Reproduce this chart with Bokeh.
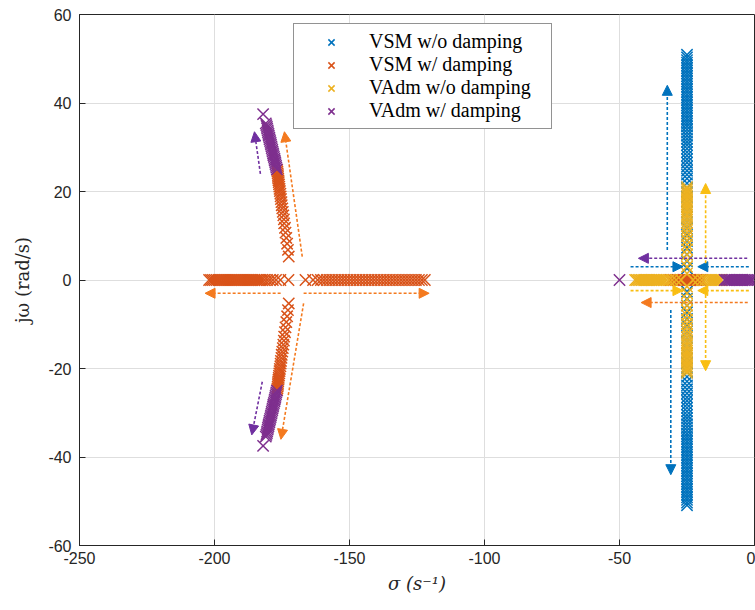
from bokeh.plotting import figure
from bokeh.models import (ColumnDataSource, Arrow, NormalHead, Range1d, Legend,
                          LegendItem, FixedTicker)
from bokeh.embed import file_html
from bokeh.resources import INLINE

# ---------------- data ----------------
series_names = ["VSM w/o damping", "VSM w/ damping", "VAdm w/o damping", "VAdm w/ damping"]
series_colors = ["#0072BD", "#D95319", "#EDB120", "#7E2F8E"]

# VSM w/o damping: vertical branch at sigma = -25
vsm_wo_up_im = [2.6, 4.2, 5.8, 7.3, 8.8, 10.2, 11.6, 12.9, 14.2, 15.4, 16.6, 17.7, 18.8,
                19.9, 20.9, 21.9, 22.9, 23.8, 24.7, 25.6, 26.5, 27.3, 28.1, 28.9, 29.7,
                30.5, 31.2, 31.9, 32.6, 33.3, 34.0, 34.7, 35.3, 35.9, 36.5, 37.1, 37.7,
                38.3, 38.9, 39.5, 40.1, 40.7, 41.3, 41.9, 42.5, 43.1, 43.7, 44.3, 44.9,
                45.5, 46.1, 46.7, 47.3, 47.9, 48.5, 49.1, 49.7, 50.3, 50.9]
vsm_wo_dn_im = [-2.6, -4.2, -5.8, -7.3, -8.8, -10.2, -11.6, -12.9, -14.2, -15.4, -16.6, -17.7, -18.8,
                -19.9, -20.9, -21.9, -22.9, -23.8, -24.7, -25.6, -26.5, -27.3, -28.1, -28.9, -29.7,
                -30.5, -31.2, -31.9, -32.6, -33.3, -34.0, -34.7, -35.3, -35.9, -36.5, -37.1, -37.7,
                -38.3, -38.9, -39.5, -40.1, -40.7, -41.3, -41.9, -42.5, -43.1, -43.7, -44.3, -44.9,
                -45.5, -46.1, -46.7, -47.3, -47.9, -48.5, -49.1, -49.7, -50.3, -50.9]
vsm_wo_sigma = -25.0

# VSM w/ damping
vsm_w_real_re = [-202.0, -201.3, -200.6, -199.9, -199.2, -198.5, -197.8, -197.1, -196.4, -195.7,
                 -195.0, -194.3, -193.6, -192.9, -192.2, -191.5, -190.8, -190.1, -189.4, -188.7,
                 -188.0, -187.3, -186.6, -185.9, -185.2, -184.5, -183.8, -183.1, -182.4,
                 -181.5, -180.5, -179.5, -178.4, -177.2, -175.6, -172.6, -166.3, -163.5, -161.8,
                 -160.6, -159.5, -158.4, -157.3, -156.2, -155.1, -154.0, -152.9, -151.8, -150.7,
                 -149.6, -148.5, -147.4, -146.3, -145.2, -144.1, -143.0, -141.9, -140.8, -139.7,
                 -138.6, -137.5, -136.4, -135.3, -134.2, -133.1, -132.0, -130.9, -129.8, -128.7,
                 -127.6, -126.5, -125.4, -124.3, -123.2, -122.1,
                 -31.0, -30.0, -29.2, -28.5, -27.9, -27.3, -26.8, -26.3, -25.8, -25.3, -25.0,
                 -24.7, -24.2, -23.7, -23.2, -22.7, -22.1, -21.5, -20.8, -20.0, -19.3]
vsm_w_br_re = [-172.5, -172.8, -173.1, -173.4, -173.7, -173.9, -174.2, -174.3, -174.5, -174.7,
               -174.9, -175.1, -175.2, -175.4, -175.5, -175.6, -175.8, -175.9, -176.0, -176.1,
               -176.2, -176.3, -176.4, -176.5, -176.5, -176.6, -176.7, -176.8]
vsm_w_up_im = [5.3, 6.8, 8.2, 9.5, 10.7, 11.8, 12.8, 13.7, 14.6, 15.4, 16.2, 16.9, 17.6, 18.3,
               18.9, 19.5, 20.1, 20.6, 21.1, 21.6, 22.1, 22.5, 22.9, 23.3, 23.7, 24.1, 24.5, 24.9]
vsm_w_dn_im = [-5.3, -6.8, -8.2, -9.5, -10.7, -11.8, -12.8, -13.7, -14.6, -15.4, -16.2, -16.9, -17.6, -18.3,
               -18.9, -19.5, -20.1, -20.6, -21.1, -21.6, -22.1, -22.5, -22.9, -23.3, -23.7, -24.1, -24.5, -24.9]

# VAdm w/o damping
vadm_wo_up_im = [1.5, 3.0, 4.4, 5.7, 6.9, 8.0, 9.0, 9.9, 10.7, 11.5, 12.2, 12.9, 13.6, 14.2,
                 14.8, 15.4, 16.0, 16.5, 17.0, 17.5, 18.0, 18.5, 19.0, 19.5, 20.0, 20.5, 21.0]
vadm_wo_dn_im = [-1.5, -3.0, -4.4, -5.7, -6.9, -8.0, -9.0, -9.9, -10.7, -11.5, -12.2, -12.9, -13.6, -14.2,
                 -14.8, -15.4, -16.0, -16.5, -17.0, -17.5, -18.0, -18.5, -19.0, -19.5, -20.0, -20.5, -21.0]
vadm_wo_sigma = -25.0
vadm_wo_real_re = [-44.2, -43.6, -43.0, -42.4, -41.8, -41.2, -40.6, -40.0, -39.4, -38.8, -38.2,
                   -37.6, -37.0, -36.4, -35.8, -35.1, -34.4, -33.6, -32.7, -31.7, -30.5, -29.0,
                   -27.2, -22.8, -21.0, -19.5, -18.3, -17.3, -16.5, -15.8, -15.2, -14.6, -14.0,
                   -13.4, -12.8, -12.3]

# VAdm w/ damping
vadm_w_real_re = [-50.0, -11.0, -10.4, -9.8, -9.2, -8.6, -8.0, -7.4, -6.8, -6.2, -5.6, -5.0, -4.4,
                  -3.8, -3.2, -2.6, -2.0, -1.4, -0.8]
vadm_w_br_re = [-176.9, -177.1, -177.2, -177.4, -177.5, -177.7, -177.8, -178.0, -178.2, -178.3,
                -178.5, -178.6, -178.8, -178.9, -179.1, -179.2, -179.4, -179.6, -179.7, -179.9,
                -180.0, -180.2, -180.3, -180.5, -180.6, -180.8, -181.0, -182.0]
vadm_w_up_im = [25.0, 25.4, 25.8, 26.2, 26.6, 27.0, 27.4, 27.8, 28.2, 28.6, 29.0, 29.4, 29.8, 30.2,
                30.6, 31.0, 31.4, 31.8, 32.2, 32.6, 33.0, 33.4, 33.8, 34.2, 34.6, 35.0, 35.4, 37.5]
vadm_w_dn_im = [-25.0, -25.4, -25.8, -26.2, -26.6, -27.0, -27.4, -27.8, -28.2, -28.6, -29.0, -29.4, -29.8, -30.2,
                -30.6, -31.0, -31.4, -31.8, -32.2, -32.6, -33.0, -33.4, -33.8, -34.2, -34.6, -35.0, -35.4, -37.5]

# direction arrows (start -> end), one group per colour
arrow_colors = ["#0072BD", "#F47A1F", "#F9BE12", "#7030A0"]
arrow_x0 = [[-32.3, -31.0, -45.9, -2.1],
            [-167.5, -167.0, -175.5, -167.0, -2.5],
            [-18.1, -18.1, -45.9, -2.1],
            [-183.0, -182.3, -2.7]]
arrow_y0 = [[6.8, -6.8, 3.0, 3.0],
            [5.3, -5.3, -3.0, -3.0, -5.1],
            [3.8, -3.4, -2.4, -2.4],
            [24.0, -23.0, 4.9]]
arrow_x1 = [[-32.3, -31.0, -26.5, -21.0],
            [-174.1, -175.4, -203.5, -120.5, -42.0],
            [-18.1, -18.1, -26.5, -21.0],
            [-185.2, -186.2, -43.0]]
arrow_y1 = [[44.0, -44.0, 3.0, 3.0],
            [33.5, -36.0, -3.0, -3.0, -5.1],
            [21.8, -20.5, -2.4, -2.4],
            [33.5, -35.0, 4.9]]

x_ticks = [-250, -200, -150, -100, -50, 0]
y_ticks = [-60, -40, -20, 0, 20, 40, 60]
x_tick_labels = ["-250", "-200", "-150", "-100", "-50", "0"]
y_tick_labels = ["-60", "-40", "-20", "0", "20", "40", "60"]

# ---------------- assemble series ----------------
s_re = [
    [vsm_wo_sigma] * (len(vsm_wo_up_im) + len(vsm_wo_dn_im)),
    vsm_w_real_re + vsm_w_br_re + vsm_w_br_re,
    [vadm_wo_sigma] * (len(vadm_wo_up_im) + len(vadm_wo_dn_im)) + vadm_wo_real_re,
    vadm_w_real_re + vadm_w_br_re + vadm_w_br_re,
]
s_im = [
    vsm_wo_up_im + vsm_wo_dn_im,
    [0.0] * len(vsm_w_real_re) + vsm_w_up_im + vsm_w_dn_im,
    vadm_wo_up_im + vadm_wo_dn_im + [0.0] * len(vadm_wo_real_re),
    [0.0] * len(vadm_w_real_re) + vadm_w_up_im + vadm_w_dn_im,
]

p = figure(width=755, height=610, x_range=Range1d(-250, 0), y_range=Range1d(-60, 60),
           output_backend="svg", toolbar_location=None,
           min_border_left=79, min_border_right=1, min_border_top=14, min_border_bottom=65)
p.background_fill_color = "white"
p.border_fill_color = "white"
p.outline_line_color = "#262626"
p.outline_line_width = 1

p.xaxis.ticker = FixedTicker(ticks=x_ticks)
p.yaxis.ticker = FixedTicker(ticks=y_ticks)
p.xaxis.major_label_overrides = {t: s for t, s in zip(x_ticks, x_tick_labels)}
p.yaxis.major_label_overrides = {t: s for t, s in zip(y_ticks, y_tick_labels)}
for ax in (p.xaxis[0], p.yaxis[0]):
    ax.axis_line_color = "#262626"
    ax.major_tick_line_color = "#262626"
    ax.major_tick_in = 6
    ax.major_tick_out = 0
    ax.minor_tick_line_color = None
    ax.major_label_text_font = "Liberation Sans"
    ax.major_label_text_font_size = "16px"
    ax.major_label_text_color = "#262626"
    ax.axis_label_text_font = "DejaVu Serif"
    ax.axis_label_text_font_size = "18px"
    ax.axis_label_text_color = "#262626"
p.xaxis.axis_label = "σ (s⁻¹)"
p.yaxis.axis_label = "jω (rad/s)"
p.xaxis.axis_label_text_font_style = "italic"
p.yaxis.axis_label_text_font_style = "normal"
p.xaxis.major_label_standoff = 6
p.yaxis.major_label_standoff = 8
p.xaxis.axis_label_standoff = 6
p.yaxis.axis_label_standoff = 12

p.grid.grid_line_color = "#dedede"
p.grid.grid_line_width = 1

renderers = []
for re_, im_, c in zip(s_re, s_im, series_colors):
    src = ColumnDataSource(dict(re=re_, im=im_))
    r = p.scatter("re", "im", source=src, marker="x", size=16, line_color=c, line_width=1.5)
    renderers.append(r)

for c, xs, ys, xe, ye in zip(arrow_colors, arrow_x0, arrow_y0, arrow_x1, arrow_y1):
    asrc = ColumnDataSource(dict(x0=xs, y0=ys, x1=xe, y1=ye))
    p.add_layout(Arrow(x_start="x0", y_start="y0", x_end="x1", y_end="y1", source=asrc,
                       line_color=c, line_width=1.6, line_dash="3 2",
                       end=NormalHead(size=10, fill_color=c, line_color=c, line_width=1)))

legend = Legend(items=[LegendItem(label=n, renderers=[r]) for n, r in zip(series_names, renderers)],
                location=(214, 416))
legend.label_text_font = "Liberation Serif"
legend.label_text_font_size = "20px"
legend.label_text_color = "#000000"
legend.glyph_width = 62
legend.glyph_height = 22
legend.label_height = 22
legend.label_width = 176
legend.label_standoff = 7
legend.spacing = 0
legend.padding = 6
legend.margin = 0
legend.border_line_color = "#262626"
legend.border_line_width = 1
legend.background_fill_color = "white"
legend.background_fill_alpha = 1
p.add_layout(legend)

open("out.html", "w").write(file_html(p, INLINE))
